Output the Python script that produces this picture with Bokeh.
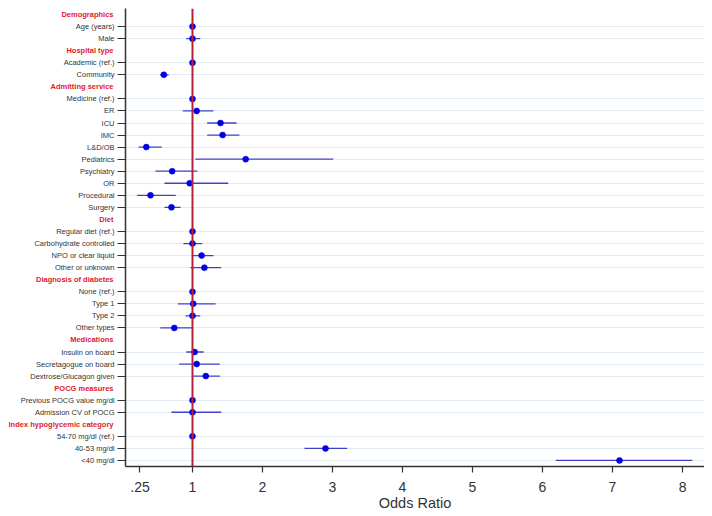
from bokeh.plotting import figure
from bokeh.models import FixedTicker, Range1d, Span, ColumnDataSource
from bokeh.layouts import row
from bokeh.core.properties import value
from bokeh.embed import file_html
from bokeh.resources import INLINE

# rows (top to bottom); headers have None values
labels = ["Demographics", "Age (years)", "Male",
          "Hospital type", "Academic (ref.)", "Community",
          "Admitting service", "Medicine (ref.)", "ER", "ICU", "IMC", "L&D/OB",
          "Pediatrics", "Psychiatry", "OR", "Procedural", "Surgery",
          "Diet", "Regular diet (ref.)", "Carbohydrate controlled",
          "NPO or clear liquid", "Other or unknown",
          "Diagnosis of diabetes", "None (ref.)", "Type 1", "Type 2", "Other types",
          "Medications", "Insulin on board", "Secretagogue on board",
          "Dextrose/Glucagon given",
          "POCG measures", "Previous POCG value mg/dl", "Admission CV of POCG",
          "Index hypoglycemic category", "54-70 mg/dl (ref.)", "40-53 mg/dl",
          "<40 mg/dl"]
is_header = [True, False, False,
             True, False, False,
             True, False, False, False, False, False,
             False, False, False, False, False,
             True, False, False, False, False,
             True, False, False, False, False,
             True, False, False, False,
             True, False, False,
             True, False, False, False]
odds = [None, 1.00, 1.00,
        None, 1.00, 0.59,
        None, 1.00, 1.06, 1.40, 1.43, 0.34,
        1.76, 0.71, 0.96, 0.40, 0.70,
        None, 1.00, 1.00, 1.13, 1.17,
        None, 1.00, 1.01, 1.00, 0.74,
        None, 1.03, 1.06, 1.19,
        None, 1.00, 1.00,
        None, 1.00, 2.90, 7.10]
ci_low = [None, 0.99, 0.91,
          None, 1.00, 0.54,
          None, 1.00, 0.86, 1.21, 1.21, 0.23,
          1.04, 0.47, 0.60, 0.21, 0.60,
          None, 1.00, 0.87, 1.00, 0.97,
          None, 1.00, 0.79, 0.90, 0.54,
          None, 0.91, 0.81, 1.00,
          None, 0.99, 0.70,
          None, 1.00, 2.60, 6.19]
ci_high = [None, 1.01, 1.11,
           None, 1.00, 0.66,
           None, 1.00, 1.30, 1.63, 1.67, 0.56,
           3.01, 1.07, 1.51, 0.76, 0.83,
           None, 1.00, 1.14, 1.30, 1.41,
           None, 1.00, 1.33, 1.11, 1.00,
           None, 1.16, 1.39, 1.39,
           None, 1.01, 1.41,
           None, 1.00, 3.21, 8.14]
x_ticks = [0.25, 1, 2, 3, 4, 5, 6, 7, 8]
x_tick_labels = [".25", "1", "2", "3", "4", "5", "6", "7", "8"]

item_rows = [i for i, h in enumerate(is_header) if not h]
header_rows = [i for i, h in enumerate(is_header) if h]

src = ColumnDataSource(dict(
    y=item_rows,
    odds=[odds[i] for i in item_rows],
    lo=[ci_low[i] for i in item_rows],
    hi=[ci_high[i] for i in item_rows],
))
item_src = ColumnDataSource(dict(y=item_rows, text=[labels[i] for i in item_rows]))
head_src = ColumnDataSource(dict(y=header_rows, text=[labels[i] for i in header_rows]))

H = 507
BOTTOM = 49
yr = Range1d(len(labels) - 0.5, -0.5)

# ---- label column (left) ----
lf = figure(width=108, height=H, output_backend="svg", toolbar_location=None,
            x_range=Range1d(0, 108), y_range=yr,
            min_border_left=0, min_border_right=0, min_border_top=0,
            min_border_bottom=BOTTOM)
lf.axis.visible = False
lf.grid.visible = False
lf.outline_line_color = None
lf.text(x=106, y="y", text="text", source=item_src, text_align="right",
        text_baseline="middle", text_font=value("Liberation Sans"),
        text_font_size="7.5px", text_color="#333333")
lf.text(x=105, y="y", text="text", source=head_src, text_align="right",
        text_baseline="middle", text_font=value("Liberation Sans"),
        text_font_size="7.5px", text_font_style="bold", text_color="#e0202a")

# ---- main plot ----
p = figure(width=588, height=H, output_backend="svg", toolbar_location=None,
           x_range=Range1d(0.043, 8.314), y_range=yr,
           min_border_left=9, min_border_right=0, min_border_top=0,
           min_border_bottom=BOTTOM)
p.outline_line_color = None

p.xgrid.grid_line_color = None
p.ygrid.ticker = FixedTicker(ticks=item_rows)
p.ygrid.grid_line_color = "#e3eaf2"
p.ygrid.grid_line_width = 1.2

p.yaxis.ticker = FixedTicker(ticks=item_rows)
p.yaxis.major_label_overrides = {i: "" for i in item_rows}
p.yaxis.major_label_text_font_size = "0px"
p.yaxis.major_label_standoff = 0
p.yaxis.major_tick_out = 8
p.yaxis.major_tick_in = 0
p.yaxis.minor_tick_out = 0
p.yaxis.minor_tick_in = 0
p.yaxis.axis_line_width = 1.5
p.yaxis.axis_line_color = "#333333"
p.yaxis.major_tick_line_color = "#333333"
p.yaxis.major_tick_line_width = 1.2

p.xaxis.ticker = FixedTicker(ticks=x_ticks)
p.xaxis.major_label_overrides = {t: s for t, s in zip(x_ticks, x_tick_labels)}
p.xaxis.major_label_text_font = "Liberation Sans"
p.xaxis.major_label_text_font_size = "14px"
p.xaxis.major_label_text_color = "#333333"
p.xaxis.major_tick_out = 6
p.xaxis.major_tick_in = 0
p.xaxis.minor_tick_out = 0
p.xaxis.minor_tick_in = 0
p.xaxis.major_label_standoff = 9
p.xaxis.axis_line_width = 1.5
p.xaxis.axis_line_color = "#333333"
p.xaxis.major_tick_line_color = "#333333"
p.xaxis.major_tick_line_width = 1.2
p.xaxis.axis_label = "Odds Ratio"
p.xaxis.axis_label_text_font = "Liberation Sans"
p.xaxis.axis_label_text_font_size = "14.5px"
p.xaxis.axis_label_text_font_style = "normal"
p.xaxis.axis_label_text_color = "#333333"
p.xaxis.axis_label_standoff = 0

p.add_layout(Span(location=1, dimension="height", line_color="#b5203c", line_width=2))

p.segment(x0="lo", x1="hi", y0="y", y1="y", source=src, line_color="#4040cc",
          line_width=1.3)
p.scatter(x="odds", y="y", source=src, size=6, fill_color="#0000e6",
          line_color="#0000e6", line_width=0.5)

layout = row(lf, p, margin=(8, 0, 0, 8))
open("out.html", "w").write(file_html(layout, INLINE))
